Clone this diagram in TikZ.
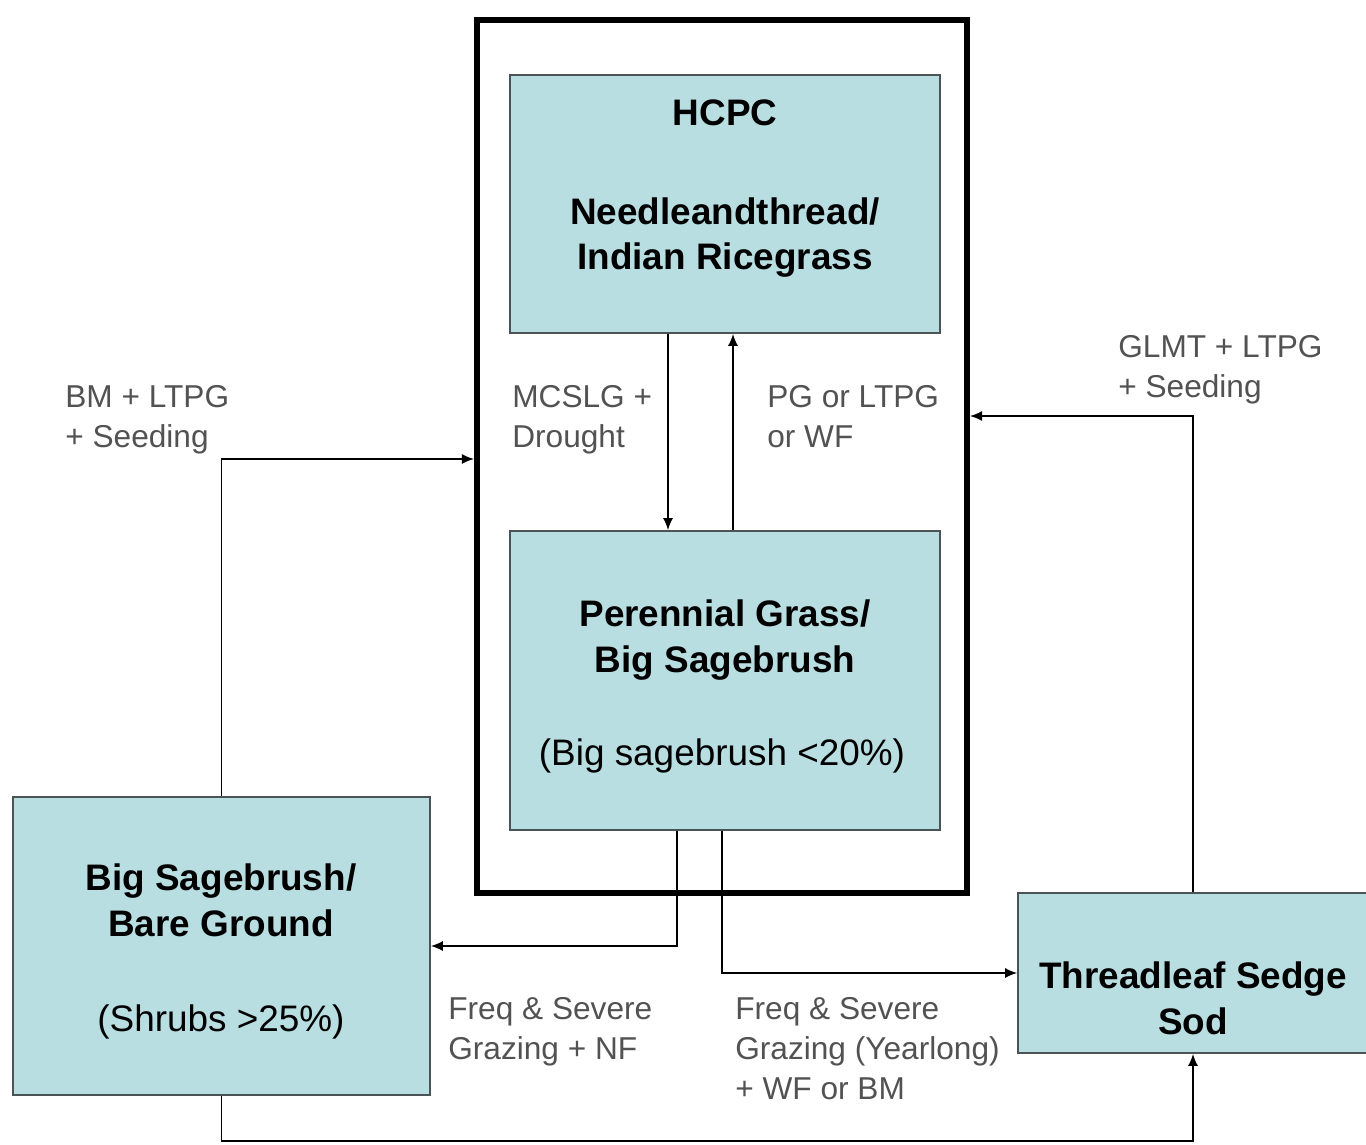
\documentclass[tikz,border=0pt]{standalone}
\usepackage{fontspec}
\setmainfont{Liberation Sans}
\usetikzlibrary{arrows, arrows.meta, calc, positioning}
\definecolor{statefill}{rgb}{0.72, 0.87, 0.886}
\definecolor{stateedge}{rgb}{0.29, 0.33, 0.34}
\colorlet{labelgrey}{black!68}
\tikzset{state/.style={draw=stateedge, fill=statefill, line width=1pt, inner sep=0pt}}
\tikzset{groupbox/.style={draw, line width=3.5pt, inner sep=0pt}}
\tikzset{statename/.style={font=\fontsize{21}{26}\selectfont\bfseries, align=center, anchor=base, inner sep=0pt}}
\tikzset{statenote/.style={font=\fontsize{21}{26}\selectfont, anchor=base, inner sep=0pt}}
\tikzset{trans/.style={font=\fontsize{18}{22.8}\selectfont, text=labelgrey, align=left, anchor=north west, inner sep=0pt}}
\tikzset{link/.style={line width=0.9pt, -{Latex[length=0.24cm, width=0.2cm]}}}

\begin{document}
\begin{tikzpicture}[x=0.02cm, y=-0.02cm]
    \useasboundingbox (0,0) rectangle (1366,1145);

    \node [groupbox, minimum width=9.8cm, minimum height=17.46cm] (group) at (722, 456.5) {};

    \node [state, minimum width=8.6cm, minimum height=5.16cm] (hcpc) at (725, 204) {};
    \node [state, minimum width=8.6cm, minimum height=5.98cm] (pgbs) at (725, 680.5) {};
    \node [state, minimum width=8.34cm, minimum height=5.96cm] (bsbg) at (221.5, 946) {};
    \node [state, minimum width=7cm, minimum height=3.2cm] (tss) at (1193, 973) {};

    % state texts
    \node [statename] (hcpctitle) at (725, 126) {HCPC};
    \node [statename] (hcpcname) at (725, 270) {Needleandthread/\\Indian Ricegrass};
    \node [statename] (pgbsname) at (725, 672) {Perennial Grass/\\Big Sagebrush};
    \node [statenote] (pgbsnote) at (722, 765) {(Big sagebrush <20\%)};
    \node [statename] (bsbgname) at (221, 936) {Big Sagebrush/\\Bare Ground};
    \node [statenote] (bsbgnote) at (221, 1031) {(Shrubs >25\%)};
    \node [statename] (tssname) at (1193, 1034) {Threadleaf Sedge\\Sod};

    % transitions
    \draw [link] ([xshift=-1.14cm]hcpc.south) -- ([xshift=-1.14cm]pgbs.north);
    \draw [link] ([xshift=0.16cm]pgbs.north) -- ([xshift=0.16cm]hcpc.south);
    \draw [link] (bsbg.north) |- ([yshift=-0.05cm]group.west);
    \draw [link] (tss.north) |- ([yshift=0.81cm]group.east);
    \draw [link] ([xshift=-0.96cm]pgbs.south) |- (bsbg.east);
    \draw [link] ([xshift=-0.06cm]pgbs.south) |- (tss.west);
    \coordinate (bottomrun) at (0, 1141);
    \draw [link] (bsbg.south) |- (bottomrun -| tss.south) -- (tss.south);

    \node [trans] (bmlabel) at (65, 385) {BM + LTPG\\+ Seeding};
    \node [trans] (mcslglabel) at (512, 385) {MCSLG +\\Drought};
    \node [trans] (pglabel) at (767, 385) {PG or LTPG\\or WF};
    \node [trans] (glmtlabel) at (1118, 335) {GLMT + LTPG\\+ Seeding};
    \node [trans] (nflabel) at (448, 997) {Freq \& Severe\\Grazing + NF};
    \node [trans] (wflabel) at (735, 997) {Freq \& Severe\\Grazing (Yearlong)\\+ WF or BM};
\end{tikzpicture}
\end{document}
